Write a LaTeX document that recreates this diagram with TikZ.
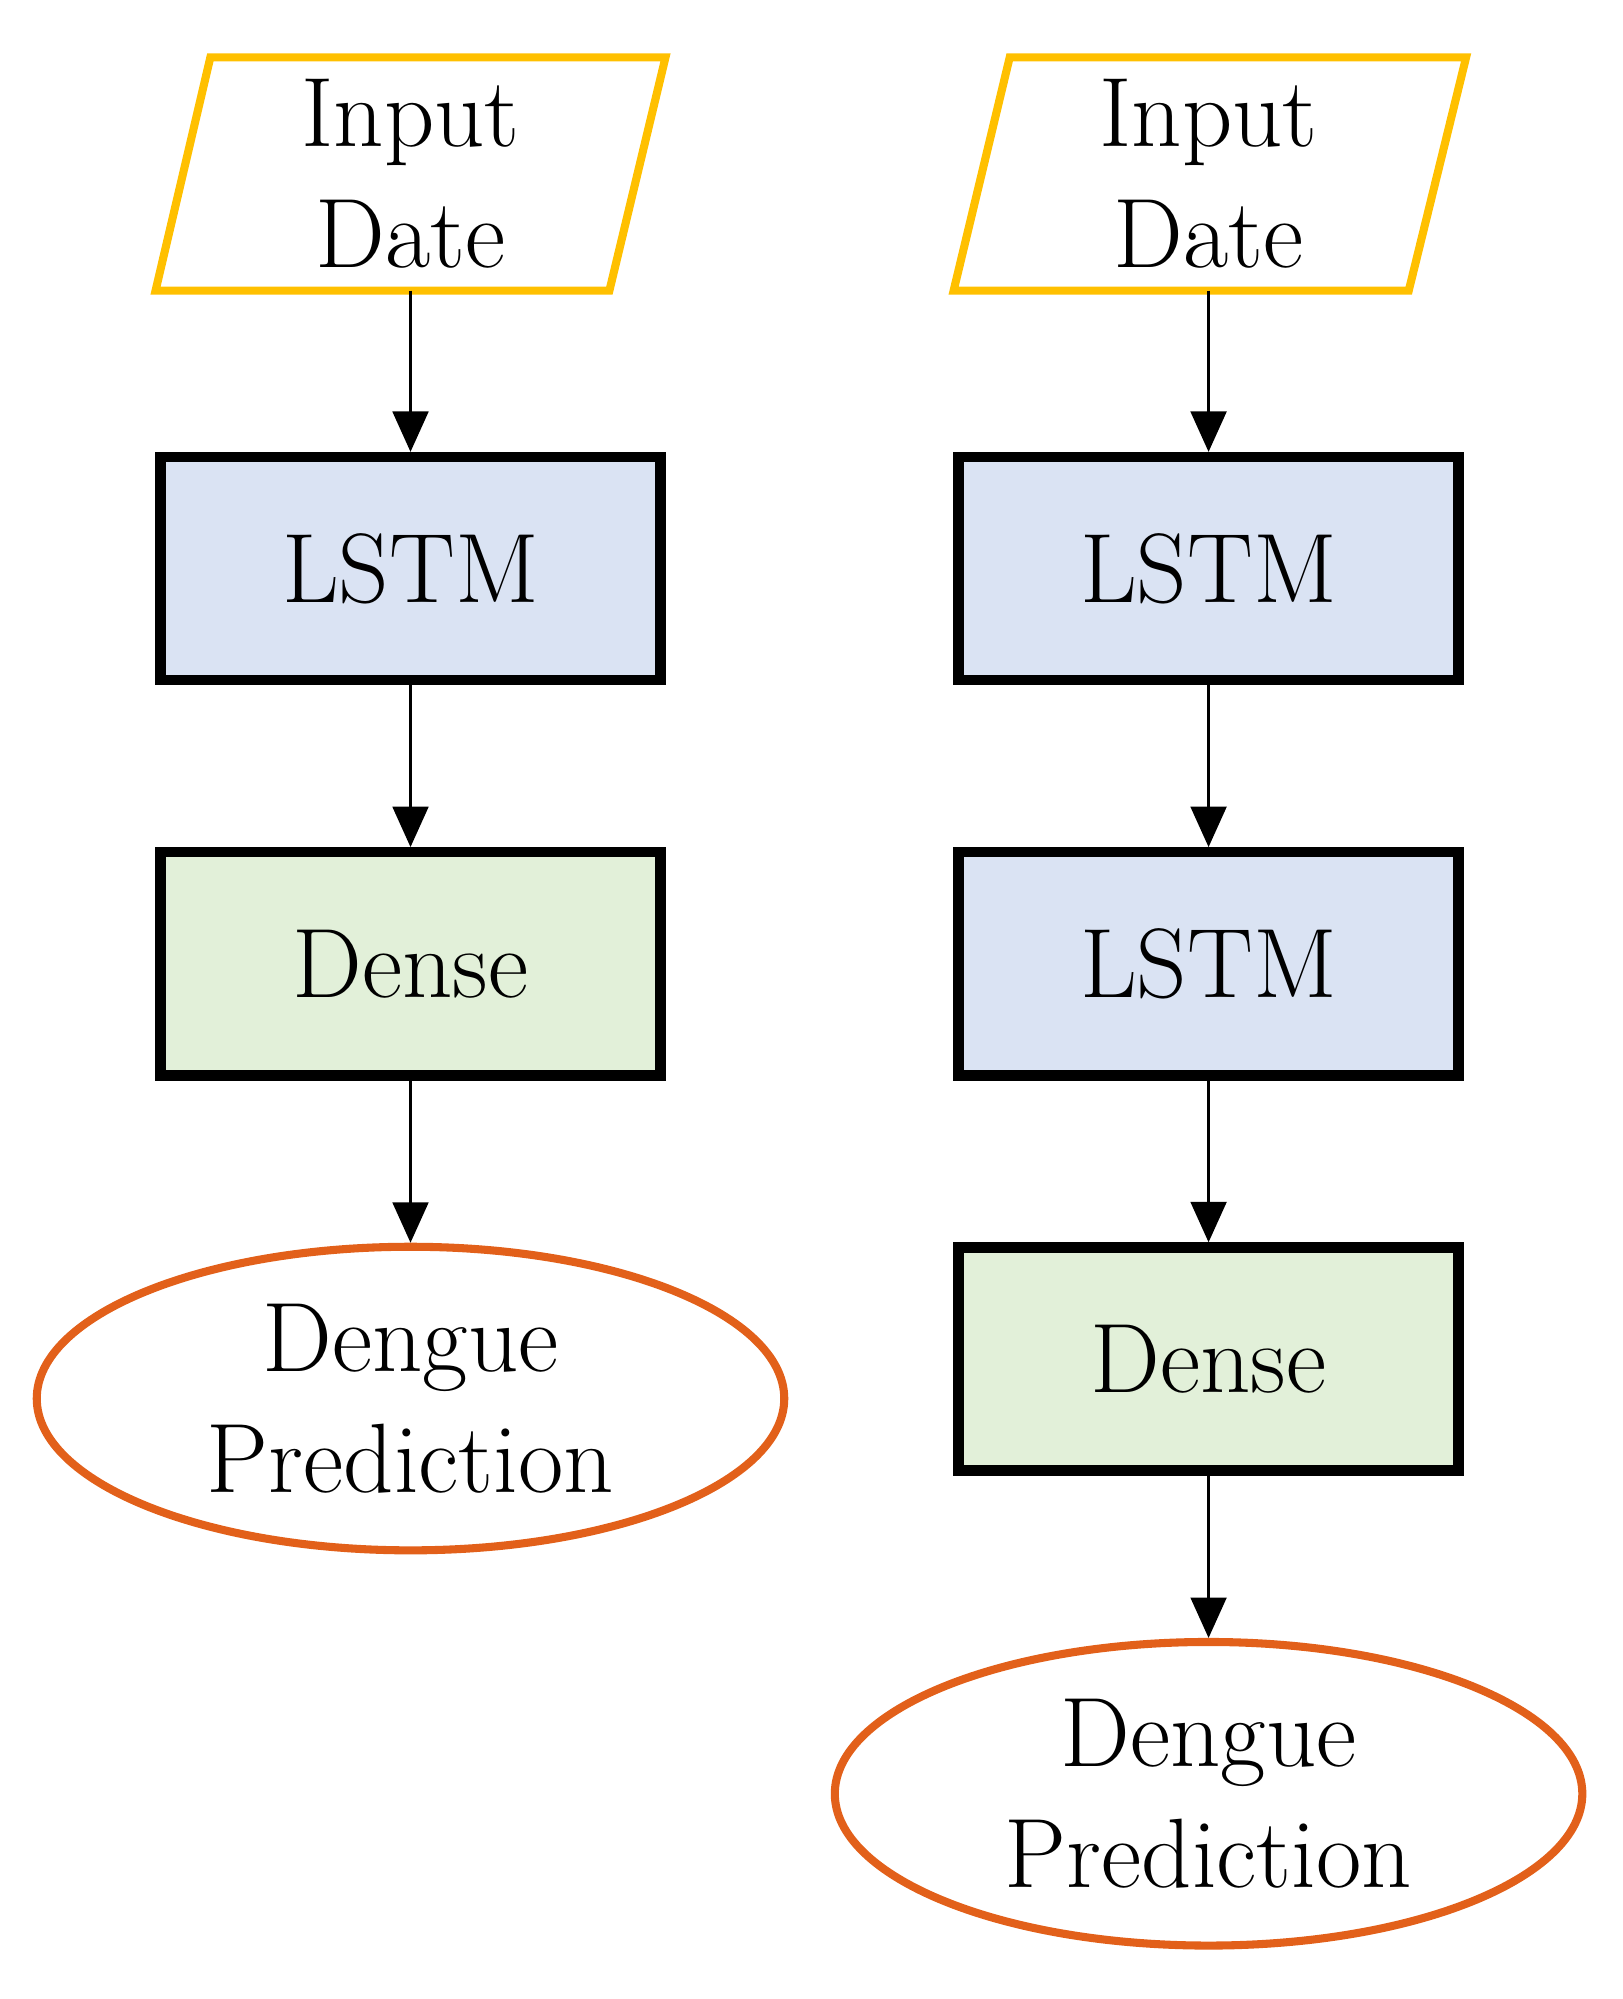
\documentclass[tikz,border=0pt]{standalone}
\usetikzlibrary{arrows.meta,shapes.geometric}
\definecolor{yel}{HTML}{FFC000}
\definecolor{lblue}{HTML}{DAE3F3}
\definecolor{lgreen}{HTML}{E2F0D9}
\definecolor{org}{HTML}{E2601A}
\begin{document}
\begin{tikzpicture}[x=0.01cm,y=-0.01cm,
  box/.style={draw=black,line width=2.3pt,minimum width=3.92cm,minimum height=1.75cm,font=\fontsize{22}{26}\selectfont,inner sep=0pt},
  lstm/.style={box,fill=lblue},
  dense/.style={box,fill=lgreen},
  pred/.style={draw=org,line width=1.8pt,ellipse,minimum width=5.86cm,minimum height=2.38cm,align=center,font=\fontsize{22}{27}\selectfont,inner sep=0pt},
  txt/.style={align=center,font=\fontsize{22}{27}\selectfont},
  arr/.style={-{Triangle[length=9pt,width=8pt]},line width=0.5pt}]
\useasboundingbox (0,0) rectangle (1273,1568);
% left column
\draw[yel,line width=1.8pt] (165,45) -- (522,45) -- (478,228) -- (122,228) -- cycle;
\node[txt] (in1) at (322,136) {Input\\Date};
\coordinate (in1b) at (322,228);
\node[lstm] (l1) at (322,446) {LSTM};
\node[dense] (d1) at (322,756) {Dense};
\node[pred] (p1) at (322,1097) {Dengue\\Prediction};
\draw[arr] (in1b) -- (l1.north);
\draw[arr] (l1.south) -- (d1.north);
\draw[arr] (d1.south) -- (p1.north);
% right column
\draw[yel,line width=1.8pt] (792,45) -- (1150,45) -- (1105,228) -- (748,228) -- cycle;
\node[txt] (in2) at (948,136) {Input\\Date};
\coordinate (in2b) at (948,228);
\node[lstm] (l2) at (948,446) {LSTM};
\node[lstm] (l3) at (948,756) {LSTM};
\node[dense] (d2) at (948,1066) {Dense};
\node[pred] (p2) at (948,1407) {Dengue\\Prediction};
\draw[arr] (in2b) -- (l2.north);
\draw[arr] (l2.south) -- (l3.north);
\draw[arr] (l3.south) -- (d2.north);
\draw[arr] (d2.south) -- (p2.north);
\end{tikzpicture}
\end{document}
